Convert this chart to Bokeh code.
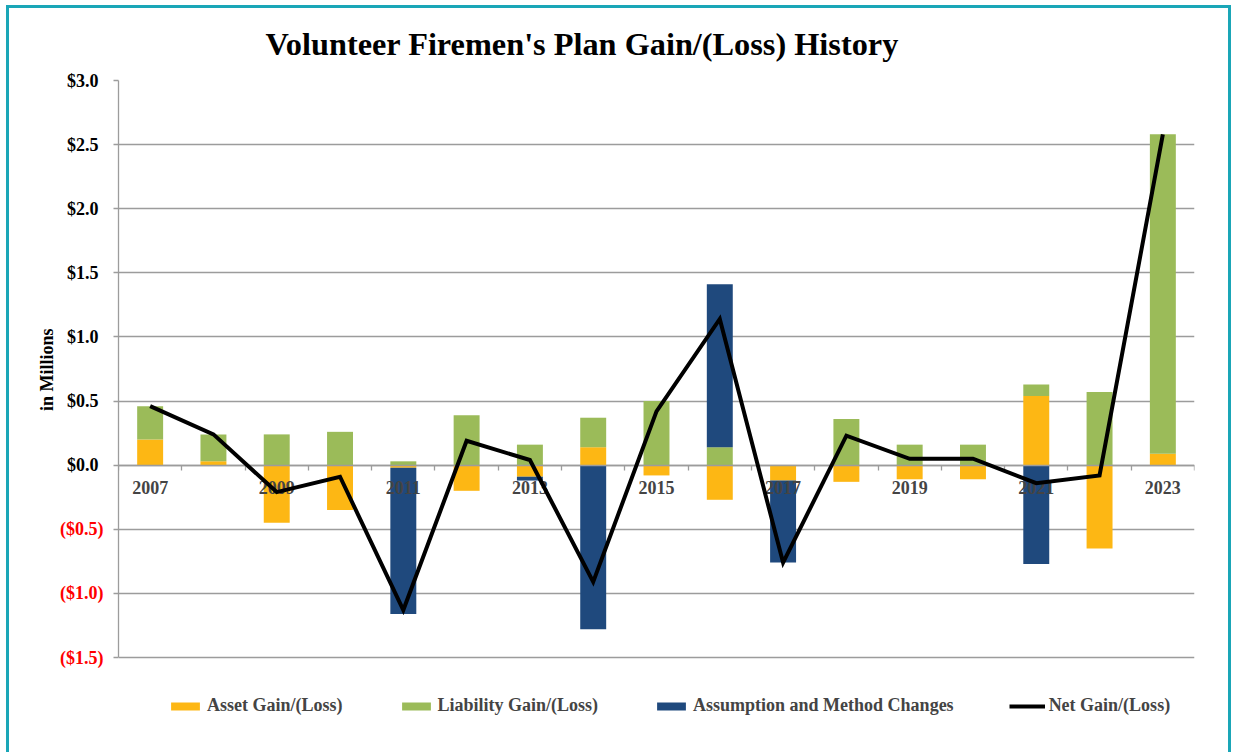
import numpy as np
from bokeh.plotting import figure
from bokeh.models import (ColumnDataSource, LinearAxis, FixedTicker, Grid, Range1d,
                          Legend, LegendItem, Title)
from bokeh.embed import file_html
from bokeh.resources import INLINE

# ---------------- data (in $ millions) ----------------
years = [2007, 2008, 2009, 2010, 2011, 2012, 2013, 2014, 2015,
         2016, 2017, 2018, 2019, 2020, 2021, 2022, 2023]
asset = [0.20, 0.03, -0.45, -0.35, -0.02, -0.20, -0.09, 0.14, -0.08,
         -0.27, -0.12, -0.13, -0.11, -0.11, 0.54, -0.65, 0.09]
liability = [0.26, 0.21, 0.24, 0.26, 0.03, 0.39, 0.16, 0.23, 0.50,
             0.14, 0.00, 0.36, 0.16, 0.16, 0.09, 0.57, 2.49]
assumption = [0.00, 0.00, 0.00, 0.00, -1.14, 0.00, -0.03, -1.28, 0.00,
              1.27, -0.64, 0.00, 0.00, 0.00, -0.77, 0.00, 0.00]
net = [0.46, 0.24, -0.21, -0.09, -1.13, 0.19, 0.04, -0.91, 0.42,
       1.14, -0.76, 0.23, 0.05, 0.05, -0.14, -0.08, 2.58]

series_names = ["Asset Gain/(Loss)", "Liability Gain/(Loss)", "Assumption and Method Changes"]
net_name = "Net Gain/(Loss)"
series_colors = ["#FDB714", "#9BBB59", "#1F497D"]

y_ticks = [-1.5, -1.0, -0.5, 0.0, 0.5, 1.0, 1.5, 2.0, 2.5, 3.0]
y_tick_labels = ["($1.5)", "($1.0)", "($0.5)", "$0.0", "$0.5", "$1.0",
                 "$1.5", "$2.0", "$2.5", "$3.0"]
x_label_years = [2007, 2009, 2011, 2013, 2015, 2017, 2019, 2021, 2023]

title_text = "Volunteer Firemen's Plan Gain/(Loss) History"
y_title = "in Millions"

# ---------------- build stacks ----------------
x = np.arange(len(years))
pos_base = np.zeros(len(years))
neg_base = np.zeros(len(years))
stacks = []
for vals in (asset, liability, assumption):
    v = np.array(vals, dtype=float)
    bottom = np.where(v >= 0, pos_base, neg_base)
    top = bottom + v
    pos_base = np.where(v >= 0, top, pos_base)
    neg_base = np.where(v < 0, top, neg_base)
    stacks.append((bottom, top))

FONT = "Liberation Serif"
GRAY = "#9c9c9c"
TEAL = "#1AA6B7"

# The plotting frame is stretched below the last tick so the legend sits inside it.
y_lo_vis, y_hi = y_ticks[0], y_ticks[-1]
AXIS_PX, LEGEND_PX = 577.0, 98.0
y_lo = y_lo_vis - LEGEND_PX / AXIS_PX * (y_hi - y_lo_vis)

p = figure(width=1219, height=744, output_backend="svg", toolbar_location=None,
           x_axis_type=None, y_axis_type=None,
           x_range=Range1d(-0.5, len(years) - 0.5), y_range=Range1d(y_lo, y_hi),
           min_border_left=109, min_border_right=40, min_border_top=70,
           min_border_bottom=0, title=title_text)
p.styles = {"border-top": f"3px solid {TEAL}", "border-left": f"3px solid {TEAL}",
            "border-right": f"3px solid {TEAL}", "box-sizing": "content-box",
            "margin-left": "6px", "margin-top": "5px"}
p.outline_line_color = None
p.background_fill_color = "white"
p.border_fill_color = "white"

p.title.text_font = FONT
p.title.text_font_style = "bold"
p.title.text_font_size = "32.3px"
p.title.text_color = "black"
p.title.align = "left"
p.title.offset = 147
p.title.vertical_align = "top"
p.title.standoff = 34

# grid
grid = Grid(dimension=1, ticker=FixedTicker(ticks=y_ticks),
            grid_line_color=GRAY, grid_line_width=1.3)
p.add_layout(grid)

# bars
renderers = []
for (bottom, top), name, col in zip(stacks, series_names, series_colors):
    src = ColumnDataSource(dict(x=x, bottom=bottom, top=top))
    r = p.vbar(x="x", bottom="bottom", top="top", width=0.41, source=src,
               fill_color=col, line_color=None)
    renderers.append(r)

net_src = ColumnDataSource(dict(x=x, y=net))
r_net = p.line(x="x", y="y", source=net_src, line_color="black", line_width=4,
               line_join="miter")
r_net.level = "overlay"

# y axes: black labels for positives (inner), red labels for negatives (outer axis,
# pulled back next to the frame with a negative standoff)
label_map = {(int(v) if float(v).is_integer() else v): s for v, s in zip(y_ticks, y_tick_labels)}
pos_over = {k: (s if not s.startswith("(") else "") for k, s in label_map.items()}
neg_ticks = [v for v, s in zip(y_ticks, y_tick_labels) if s.startswith("(")]
neg_over = {k: s for k, s in label_map.items() if s.startswith("(")}

yax = LinearAxis(ticker=FixedTicker(ticks=y_ticks), major_label_overrides=pos_over,
                 bounds=(y_lo_vis, y_hi))
yax.axis_line_color = GRAY
yax.axis_line_width = 1.3
yax.major_tick_line_color = GRAY
yax.major_tick_line_width = 1.3
yax.major_tick_out = 5
yax.major_tick_in = 0
yax.minor_tick_line_color = None
yax.major_label_standoff = 15
yax.major_label_text_font = FONT
yax.major_label_text_font_style = "bold"
yax.major_label_text_font_size = "18px"
yax.major_label_text_color = "black"
p.add_layout(yax, "left")

yax_neg = LinearAxis(ticker=FixedTicker(ticks=neg_ticks), major_label_overrides=neg_over,
                     bounds=(y_lo_vis, y_hi))
yax_neg.axis_line_color = None
yax_neg.major_tick_line_color = None
yax_neg.minor_tick_line_color = None
yax_neg.major_tick_out = 0
yax_neg.major_tick_in = 0
yax_neg.major_label_standoff = -40
yax_neg.major_label_text_font = FONT
yax_neg.major_label_text_font_style = "bold"
yax_neg.major_label_text_font_size = "18px"
yax_neg.major_label_text_color = "red"
p.add_layout(yax_neg, "left")

# y-axis title, aligned to the top of the frame (the frame also holds the legend)
ylab = Title(text=y_title, align="right", offset=248, standoff=2,
             text_font=FONT, text_font_style="bold", text_font_size="18px",
             text_color="black")
p.add_layout(ylab, "left")

# x axis at zero
x_over = {int(i): str(y) for i, y in enumerate(years) if y in x_label_years}
x_major = [int(i) for i, y in enumerate(years) if y in x_label_years]
x_minor = [i - 0.5 for i in range(len(years) + 1)]
xax = LinearAxis(ticker=FixedTicker(ticks=x_major, minor_ticks=x_minor),
                 major_label_overrides=x_over, fixed_location=0)
xax.axis_line_color = GRAY
xax.axis_line_width = 1.3
xax.major_tick_line_color = None
xax.major_tick_out = 0
xax.major_tick_in = 0
xax.minor_tick_line_color = GRAY
xax.minor_tick_line_width = 1.3
xax.minor_tick_out = 5
xax.minor_tick_in = 0
xax.major_label_standoff = 11
xax.major_label_text_font = FONT
xax.major_label_text_font_style = "bold"
xax.major_label_text_font_size = "18px"
p.add_layout(xax, "below")

# legend (inside the stretched frame, below the last gridline)
items = [LegendItem(label=n, renderers=[r]) for n, r in zip(series_names, renderers)]
items.append(LegendItem(label=net_name, renderers=[r_net]))
legend = Legend(items=items, orientation="horizontal", location=(49, 39),
                glyph_width=36, glyph_height=10, label_standoff=4, spacing=55,
                padding=5, margin=0, border_line_color=None, background_fill_alpha=0,
                label_text_font=FONT, label_text_font_style="bold",
                label_text_font_size="18px")
p.add_layout(legend, "center")

open("out.html", "w").write(file_html(p, INLINE))
